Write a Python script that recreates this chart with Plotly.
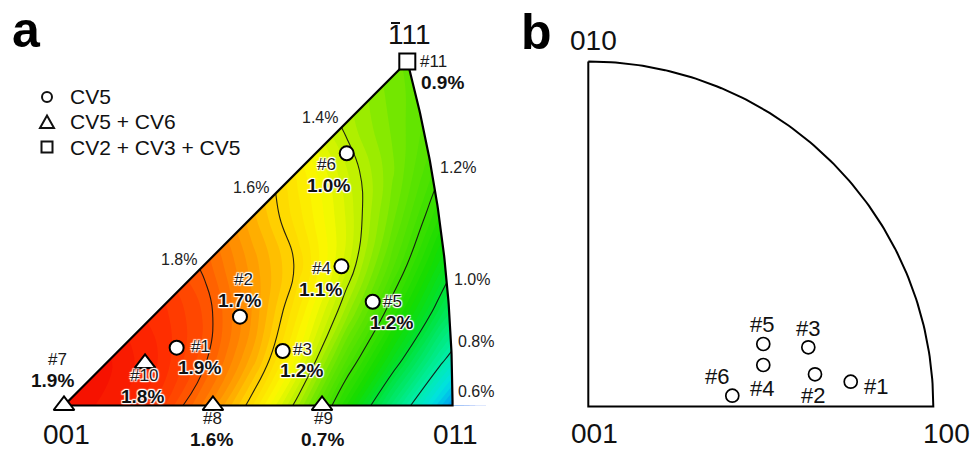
import numpy as np
import plotly.graph_objects as go

W, H = 974, 450

# ---------------- DATA ----------------
# Panel a: theoretical transformation strain (%) over the stereographic
# standard triangle (projection coordinates, 001 at origin, 011 on x axis)
grid_x = [0.00, 0.05, 0.10, 0.15, 0.20, 0.25, 0.30, 0.35, 0.40, 0.45]
grid_y = [0.00, 0.05, 0.10, 0.15, 0.20, 0.25, 0.30, 0.35, 0.40]
strain_grid = [
    [1.97, 1.94, 1.87, 1.74, 1.58, 1.375, 1.13, 0.89, 0.66, 0.45],
    [1.96, 1.95, 1.90, 1.81, 1.67, 1.49, 1.26, 1.05, 0.83, 0.62],
    [1.93, 1.92, 1.89, 1.82, 1.70, 1.55, 1.37, 1.17, 0.97, 0.78],
    [1.92, 1.90, 1.86, 1.79, 1.69, 1.59, 1.44, 1.26, 1.07, 0.88],
    [1.92, 1.90, 1.85, 1.76, 1.66, 1.56, 1.45, 1.31, 1.15, 1.00],
    [1.90, 1.88, 1.82, 1.74, 1.64, 1.54, 1.43, 1.33, 1.21, 1.10],
    [1.88, 1.84, 1.77, 1.68, 1.58, 1.48, 1.39, 1.32, 1.25, 1.18],
    [1.85, 1.80, 1.72, 1.63, 1.54, 1.45, 1.38, 1.31, 1.27, 1.22],
    [1.82, 1.76, 1.68, 1.60, 1.51, 1.43, 1.37, 1.30, 1.26, 1.22],
]
contour_levels = [1.8, 1.6, 1.4, 1.2, 1.0, 0.8, 0.6]
contour_labels = ["1.8%", "1.6%", "1.4%", "1.2%", "1.0%", "0.8%", "0.6%"]

sample_a = ["#1", "#2", "#3", "#4", "#5", "#6", "#7", "#8", "#9", "#10", "#11"]
strain_a = ["1.9%", "1.7%", "1.2%", "1.1%", "1.2%", "1.0%",
            "1.9%", "1.6%", "0.7%", "1.8%", "0.9%"]
mode_a = ["CV5"] * 6 + ["CV5 + CV6"] * 4 + ["CV2 + CV3 + CV5"]
x_a = [0.1201, 0.1876, 0.2332, 0.2958, 0.3291, 0.3014,
       0.0000, 0.1588, 0.2751, 0.0864, 0.3660]
y_a = [0.0615, 0.0945, 0.0580, 0.1481, 0.1104, 0.2683,
       0.0000, 0.0000, 0.0000, 0.0447, 0.3660]

# Panel b: orientations of samples #1-#6 in the 001-100-010 quadrant
sample_b = ["#1", "#2", "#3", "#4", "#5", "#6"]
x_b = [0.7606, 0.6571, 0.6377, 0.5072, 0.5072, 0.4174]
y_b = [0.0719, 0.0933, 0.1716, 0.1203, 0.1812, 0.0313]

corner_a = ["001", "011", "111"]
corner_b = ["010", "001", "100"]
legend_modes = ["CV5", "CV5 + CV6", "CV2 + CV3 + CV5"]

# ---------------- STYLE ----------------
FONT = "Liberation Sans, Arial, Helvetica, sans-serif"
HALO = ("1px 1px 1px #fff, -1px -1px 1px #fff, 1px -1px 1px #fff, "
        "-1px 1px 1px #fff, 0px 1px 1px #fff, 0px -1px 1px #fff")
symbols = {"CV5": ("circle", 14), "CV5 + CV6": ("triangle-up", 18),
           "CV2 + CV3 + CV5": ("square", 16)}

AX0, AY0, AUX, AUY = 64.0, 405.5, 938.0, 940.0
BX0, BY0, BU = 588.3, 406.5, 345.0


def px(x):
    return x / W


def py(y):
    return 1 - y / H


zmin, zmax = 0.5, 2.0
stops = [(0.50, (0, 70, 235)), (0.55, (0, 100, 235)), (0.60, (0, 150, 240)),
         (0.70, (0, 225, 225)), (0.80, (0, 238, 170)), (0.90, (0, 232, 110)),
         (1.00, (0, 225, 50)), (1.10, (20, 220, 0)), (1.20, (60, 223, 0)),
         (1.30, (105, 230, 0)), (1.40, (185, 240, 0)), (1.50, (250, 250, 0)),
         (1.60, (255, 215, 0)), (1.70, (255, 150, 0)), (1.80, (255, 90, 0)),
         (1.90, (255, 40, 0)), (2.00, (240, 5, 0))]
cscale = [[(v - zmin) / (zmax - zmin), "rgb(%d,%d,%d)" % c] for v, c in stops]

fig = go.Figure()

fig.add_trace(go.Contour(
    x=grid_x, y=grid_y, z=strain_grid, xaxis="x", yaxis="y",
    colorscale=cscale, zmin=zmin, zmax=zmax, autocontour=False,
    contours=dict(start=zmin, end=zmax, size=0.025, coloring="fill", showlines=False),
    line=dict(width=0, smoothing=1.3), showscale=False, hoverinfo="skip",
    showlegend=False))
fig.add_trace(go.Contour(
    x=grid_x, y=grid_y, z=strain_grid, xaxis="x", yaxis="y", autocontour=False,
    contours=dict(start=min(contour_levels), end=max(contour_levels), size=0.2,
                  coloring="none"),
    line=dict(color="rgba(15,15,15,0.9)", width=1.1, smoothing=1.3),
    showscale=False, hoverinfo="skip", showlegend=False))

# triangle geometry
top = 1 / (np.sqrt(3) + 1)
p = np.linspace(0, 1, 100)
arc_x = 1 / (np.sqrt(p ** 2 + 2) + 1)
arc_y = p / (np.sqrt(p ** 2 + 2) + 1)

mask_x = [0, top, top, -0.03, -0.03, 0, None] + list(arc_x[::-1]) + [0.48, 0.48, top, top]
mask_y = [0, top, 0.45, 0.45, -0.001, 0, None] + list(arc_y[::-1]) + [0, 0.45, 0.45, top]
fig.add_trace(go.Scatter(x=mask_x, y=mask_y, mode="lines", fill="toself",
                         fillcolor="white", line=dict(width=0, color="white"),
                         xaxis="x", yaxis="y", hoverinfo="skip", showlegend=False))
fig.add_trace(go.Scatter(x=[0, arc_x[0]] + list(arc_x) + [0],
                         y=[0, 0] + list(arc_y) + [0], mode="lines",
                         line=dict(color="black", width=2.2),
                         xaxis="x", yaxis="y", hoverinfo="skip", showlegend=False))

for m in legend_modes:
    idx = [i for i, v in enumerate(mode_a) if v == m]
    sym, size = symbols[m]
    fig.add_trace(go.Scatter(
        x=[x_a[i] for i in idx], y=[y_a[i] for i in idx], mode="markers", name=m,
        marker=dict(symbol=sym, size=size, color="white",
                    line=dict(color="black", width=2)),
        xaxis="x", yaxis="y", showlegend=False, hoverinfo="skip", cliponaxis=False))

# panel b frame
th = np.linspace(0, np.pi / 2, 120)
fig.add_trace(go.Scatter(x=[0, 0, 1] + list(np.cos(th)), y=[1, 0, 0] + list(np.sin(th)),
                         mode="lines", line=dict(color="black", width=2),
                         xaxis="x2", yaxis="y2", hoverinfo="skip", showlegend=False))
fig.add_trace(go.Scatter(x=x_b, y=y_b, mode="markers",
                         marker=dict(symbol="circle", size=13, color="white",
                                     line=dict(color="black", width=1.7)),
                         xaxis="x2", yaxis="y2", hoverinfo="skip", showlegend=False))

ann = []
id_off = {"#1": (24, 1), "#2": (4, 37.5), "#3": (20, 1.5), "#4": (-19.5, -2),
          "#5": (20, 0), "#6": (-20, -11.5), "#7": (-7, 46.5), "#8": (0, -13),
          "#9": (1, -13), "#10": (-1, -12), "#11": (26, 0)}
val_off = {"#1": (23, -20), "#2": (0, 16.5), "#3": (19, -19.5), "#4": (-20.5, -23),
           "#5": (19, -21), "#6": (-18, -32.5), "#7": (-12, 25.5), "#8": (-1, -33.5),
           "#9": (0, -33.5), "#10": (-3, -33), "#11": (35, -21)}
for i, s in enumerate(sample_a):
    dx, dy = id_off[s]
    ann.append(dict(x=x_a[i], y=y_a[i], xref="x", yref="y", text=s, showarrow=False,
                    xshift=dx, yshift=dy, xanchor="center", yanchor="middle",
                    font=dict(family=FONT, size=17, color="#1a1a1a", shadow=HALO)))
    dx, dy = val_off[s]
    ann.append(dict(x=x_a[i], y=y_a[i], xref="x", yref="y", text="<b>%s</b>" % strain_a[i],
                    showarrow=False, xshift=dx, yshift=dy, xanchor="center", yanchor="middle",
                    font=dict(family=FONT, size=19, color="#111", shadow=HALO)))

lab_pos = {"1.8%": (179, 259), "1.6%": (251, 187), "1.4%": (320, 117),
           "1.2%": (458, 168), "1.0%": (472, 279), "0.8%": (476, 341), "0.6%": (476, 391)}
for t in contour_labels:
    xx, yy = lab_pos[t]
    ann.append(dict(x=px(xx), y=py(yy), xref="paper", yref="paper", text=t,
                    showarrow=False, xanchor="center", yanchor="middle",
                    font=dict(family=FONT, size=16, color="#222")))

b_off = {"#1": (25, -5), "#2": (-2, -21), "#3": (0, 19), "#4": (-1, -23),
         "#5": (-1, 19), "#6": (-15, 19)}
for i, s in enumerate(sample_b):
    dx, dy = b_off[s]
    ann.append(dict(x=x_b[i], y=y_b[i], xref="x2", yref="y2", text=s, showarrow=False,
                    xshift=dx, yshift=dy, xanchor="center", yanchor="middle",
                    font=dict(family=FONT, size=22, color="#111")))

corner_pos_a = {"001": (66, 434), "011": (455, 434), "111": (409, 35)}
corner_pos_b = {"010": (593, 40), "001": (594, 433), "100": (946, 433)}
for t in corner_a:
    xx, yy = corner_pos_a[t]
    ann.append(dict(x=px(xx), y=py(yy), xref="paper", yref="paper", text=t,
                    showarrow=False, xanchor="center", yanchor="middle",
                    font=dict(family=FONT, size=28, color="#111")))
for t in corner_b:
    xx, yy = corner_pos_b[t]
    ann.append(dict(x=px(xx), y=py(yy), xref="paper", yref="paper", text=t,
                    showarrow=False, xanchor="center", yanchor="middle",
                    font=dict(family=FONT, size=28, color="#111")))

ann.append(dict(x=px(26), y=py(30), xref="paper", yref="paper", text="<b>a</b>",
                showarrow=False, xanchor="center", yanchor="middle",
                font=dict(family=FONT, size=50, color="black")))
ann.append(dict(x=px(536), y=py(32), xref="paper", yref="paper", text="<b>b</b>",
                showarrow=False, xanchor="center", yanchor="middle",
                font=dict(family=FONT, size=50, color="black")))

# manual legend (symbols as layout shapes, text as annotations)
leg_y = [97, 122, 147]
shapes = [dict(type="line", xref="paper", yref="paper", x0=px(391), x1=px(400),
               y0=py(23), y1=py(23), line=dict(color="#111", width=2))]
LX = 47
shapes.append(dict(type="circle", xref="paper", yref="paper",
                   x0=px(LX - 5), x1=px(LX + 5), y0=py(leg_y[0] - 5), y1=py(leg_y[0] + 5),
                   line=dict(color="#111", width=2), fillcolor="white"))
shapes.append(dict(type="path", xref="paper", yref="paper",
                   path="M %f,%f L %f,%f L %f,%f Z" % (px(LX - 7), py(leg_y[1] + 6),
                                                      px(LX + 7), py(leg_y[1] + 6),
                                                      px(LX), py(leg_y[1] - 6.5)),
                   line=dict(color="#111", width=2), fillcolor="white"))
shapes.append(dict(type="rect", xref="paper", yref="paper",
                   x0=px(LX - 5.5), x1=px(LX + 5.5), y0=py(leg_y[2] - 5.5), y1=py(leg_y[2] + 5.5),
                   line=dict(color="#111", width=2), fillcolor="white"))
for t, yy in zip(legend_modes, leg_y):
    ann.append(dict(x=px(68), y=py(yy), xref="paper", yref="paper", text=t,
                    showarrow=False, xanchor="left", yanchor="middle",
                    font=dict(family=FONT, size=21, color="#111")))

AX = dict(visible=False, showgrid=False, zeroline=False, fixedrange=True)
fig.update_layout(
    width=W, height=H, autosize=False, margin=dict(l=0, r=0, t=0, b=0),
    paper_bgcolor="white", plot_bgcolor="white", showlegend=False,
    xaxis=dict(domain=[0, 0.5], range=[-AX0 / AUX, (487 - AX0) / AUX], **AX),
    yaxis=dict(domain=[0, 1], range=[-(H - AY0) / AUY, AY0 / AUY], **AX),
    xaxis2=dict(domain=[0.5, 1], range=[-(BX0 - 487) / BU, (W - BX0) / BU], anchor="y2", **AX),
    yaxis2=dict(domain=[0, 1], range=[-(H - BY0) / BU, BY0 / BU], anchor="x2", **AX),
    annotations=ann, shapes=shapes,
)

fig.write_html("out.html")
